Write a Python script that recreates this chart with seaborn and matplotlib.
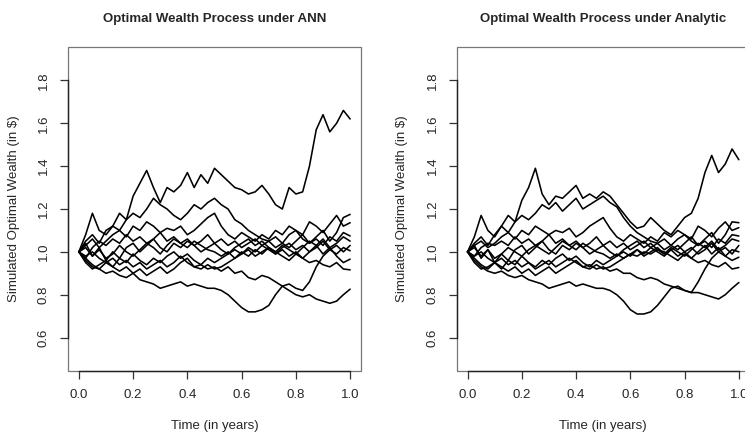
import numpy as np
import pandas as pd
import matplotlib
matplotlib.use("Agg")
import matplotlib.pyplot as plt
from matplotlib.patches import Rectangle
import seaborn as sns

# --- Data (10 simulated paths per panel) ---
time_grid = np.round(np.arange(0, 1.0001, 0.025), 3)

ann_paths = [
    [1.00, 1.05, 1.08, 1.04, 1.10, 1.12, 1.18, 1.15, 1.26, 1.32, 1.38, 1.30, 1.23, 1.30, 1.28, 1.31, 1.37, 1.30, 1.36, 1.32, 1.39,
     1.36, 1.33, 1.30, 1.29, 1.27, 1.28, 1.31, 1.27, 1.22, 1.20, 1.30, 1.27, 1.28, 1.40, 1.57, 1.64, 1.56, 1.60, 1.66, 1.62],
    [1.00, 1.08, 1.18, 1.10, 1.08, 1.12, 1.10, 1.15, 1.18, 1.16, 1.20, 1.25, 1.22, 1.20, 1.17, 1.15, 1.18, 1.22, 1.20, 1.23, 1.25,
     1.22, 1.20, 1.15, 1.13, 1.10, 1.08, 1.06, 1.05, 1.02, 1.04, 1.08, 1.10, 1.06, 1.04, 1.07, 1.10, 1.05, 1.09, 1.16, 1.175],
    [1.00, 1.03, 1.06, 1.02, 1.05, 1.08, 1.10, 1.07, 1.12, 1.10, 1.14, 1.12, 1.09, 1.11, 1.10, 1.12, 1.08, 1.10, 1.13, 1.16, 1.18,
     1.12, 1.08, 1.06, 1.09, 1.07, 1.05, 1.08, 1.06, 1.10, 1.08, 1.12, 1.10, 1.08, 1.14, 1.12, 1.09, 1.13, 1.17, 1.12, 1.136],
    [1.00, 0.97, 1.02, 1.05, 1.03, 1.06, 1.04, 1.08, 1.05, 1.07, 1.04, 1.06, 1.09, 1.05, 1.07, 1.04, 1.06, 1.03, 1.05, 1.08, 1.04,
     1.06, 1.03, 1.05, 1.02, 1.04, 1.06, 1.03, 1.05, 1.07, 1.04, 1.02, 1.05, 1.08, 1.04, 1.06, 1.03, 1.07, 1.05, 1.09, 1.074],
    [1.00, 1.04, 0.98, 1.02, 0.96, 1.00, 0.97, 1.02, 1.04, 1.00, 1.03, 1.06, 1.02, 1.00, 1.04, 1.02, 1.05, 1.03, 1.00, 1.02, 1.04,
     1.01, 0.99, 1.02, 1.04, 1.06, 1.03, 1.05, 1.02, 1.00, 1.03, 1.01, 0.99, 1.02, 1.05, 1.03, 1.06, 1.02, 1.04, 1.07, 1.05],
    [1.00, 0.95, 0.92, 0.94, 0.96, 0.93, 0.97, 0.95, 0.99, 0.96, 0.94, 0.97, 0.95, 0.98, 1.00, 0.97, 0.99, 0.96, 0.94, 0.97, 0.95,
     0.97, 0.99, 1.01, 0.99, 1.02, 1.00, 1.03, 1.01, 0.99, 1.02, 1.04, 1.01, 1.03, 1.00, 1.02, 1.05, 1.01, 1.03, 1.00, 1.03],
    [1.00, 0.96, 0.93, 0.92, 0.90, 0.91, 0.89, 0.88, 0.90, 0.87, 0.86, 0.85, 0.83, 0.84, 0.85, 0.86, 0.84, 0.85, 0.84, 0.83, 0.83,
     0.82, 0.80, 0.77, 0.74, 0.72, 0.72, 0.73, 0.75, 0.80, 0.84, 0.85, 0.83, 0.82, 0.86, 0.93, 0.98, 1.01, 0.99, 1.02, 1.005],
    [1.00, 1.02, 0.98, 1.01, 0.97, 0.99, 1.03, 1.00, 0.98, 1.01, 1.04, 1.02, 0.99, 1.03, 1.06, 1.04, 1.02, 1.05, 1.03, 1.01, 1.00,
     0.98, 1.00, 0.97, 0.99, 1.01, 0.98, 1.00, 1.02, 0.99, 1.01, 0.98, 1.00, 0.97, 1.00, 1.03, 0.99, 1.02, 0.98, 0.95, 0.966],
    [1.00, 0.97, 0.94, 0.92, 0.95, 0.93, 0.91, 0.93, 0.90, 0.92, 0.89, 0.91, 0.93, 0.90, 0.92, 0.95, 0.97, 0.93, 0.92, 0.94, 0.92,
     0.93, 0.95, 0.97, 1.00, 0.98, 1.01, 0.99, 1.02, 1.00, 0.98, 0.96, 0.99, 0.97, 0.95, 0.96, 0.94, 0.93, 0.95, 0.92, 0.916],
    [1.00, 0.98, 1.00, 0.97, 0.95, 0.97, 0.94, 0.96, 0.93, 0.95, 0.92, 0.94, 0.96, 0.93, 0.95, 0.98, 0.95, 0.93, 0.94, 0.92, 0.93,
     0.91, 0.93, 0.90, 0.91, 0.88, 0.87, 0.89, 0.88, 0.86, 0.84, 0.82, 0.80, 0.79, 0.80, 0.78, 0.77, 0.76, 0.77, 0.80, 0.826],
]

analytic_paths = [
    [1.00, 1.04, 1.07, 1.03, 1.08, 1.12, 1.17, 1.14, 1.24, 1.30, 1.39, 1.27, 1.22, 1.26, 1.25, 1.28, 1.31, 1.25, 1.27, 1.25, 1.28,
     1.26, 1.22, 1.18, 1.14, 1.11, 1.12, 1.16, 1.13, 1.10, 1.08, 1.12, 1.16, 1.18, 1.25, 1.37, 1.45, 1.37, 1.41, 1.48, 1.43],
    [1.00, 1.07, 1.17, 1.10, 1.07, 1.12, 1.09, 1.14, 1.17, 1.15, 1.18, 1.22, 1.20, 1.23, 1.19, 1.22, 1.25, 1.20, 1.22, 1.24, 1.26,
     1.23, 1.21, 1.16, 1.12, 1.09, 1.07, 1.05, 1.04, 1.01, 1.03, 1.06, 1.08, 1.05, 1.03, 1.06, 1.09, 1.04, 1.08, 1.14, 1.136],
    [1.00, 1.03, 1.05, 1.02, 1.04, 1.07, 1.09, 1.06, 1.10, 1.08, 1.12, 1.10, 1.08, 1.10, 1.09, 1.11, 1.07, 1.09, 1.12, 1.14, 1.16,
     1.11, 1.07, 1.05, 1.08, 1.06, 1.04, 1.07, 1.05, 1.09, 1.07, 1.10, 1.08, 1.06, 1.12, 1.10, 1.07, 1.11, 1.14, 1.10, 1.113],
    [1.00, 0.98, 1.02, 1.04, 1.03, 1.05, 1.03, 1.07, 1.04, 1.06, 1.03, 1.05, 1.08, 1.04, 1.06, 1.03, 1.05, 1.02, 1.04, 1.07, 1.03,
     1.05, 1.02, 1.04, 1.01, 1.03, 1.05, 1.02, 1.04, 1.06, 1.03, 1.01, 1.04, 1.07, 1.03, 1.05, 1.02, 1.06, 1.04, 1.08, 1.074],
    [1.00, 1.03, 0.97, 1.01, 0.95, 0.99, 0.96, 1.01, 1.03, 0.99, 1.02, 1.05, 1.01, 0.99, 1.03, 1.01, 1.04, 1.02, 0.99, 1.01, 1.03,
     1.00, 0.98, 1.01, 1.03, 1.05, 1.02, 1.04, 1.01, 0.99, 1.02, 1.00, 0.98, 1.01, 1.04, 1.02, 1.05, 1.01, 1.03, 1.06, 1.05],
    [1.00, 0.95, 0.92, 0.93, 0.95, 0.92, 0.96, 0.94, 0.98, 0.95, 0.93, 0.96, 0.94, 0.97, 0.99, 0.96, 0.98, 0.95, 0.93, 0.96, 0.94,
     0.96, 0.98, 1.00, 0.98, 1.01, 0.99, 1.02, 1.00, 0.98, 1.01, 1.03, 1.00, 1.02, 0.99, 1.01, 1.04, 1.00, 1.02, 0.99, 1.03],
    [1.00, 0.96, 0.93, 0.91, 0.90, 0.91, 0.89, 0.88, 0.89, 0.87, 0.86, 0.85, 0.83, 0.84, 0.85, 0.86, 0.84, 0.85, 0.84, 0.83, 0.83,
     0.82, 0.80, 0.77, 0.73, 0.71, 0.71, 0.72, 0.75, 0.79, 0.83, 0.84, 0.82, 0.81, 0.86, 0.92, 0.97, 1.00, 0.98, 1.01, 1.00],
    [1.00, 1.02, 0.98, 1.01, 0.97, 0.99, 1.02, 1.00, 0.98, 1.01, 1.03, 1.01, 0.99, 1.02, 1.05, 1.03, 1.01, 1.04, 1.02, 1.00, 0.99,
     0.97, 0.99, 0.97, 0.99, 1.01, 0.98, 1.00, 1.02, 0.99, 1.01, 0.98, 1.00, 0.97, 1.00, 1.03, 0.99, 1.02, 0.98, 0.96, 0.975],
    [1.00, 0.97, 0.94, 0.92, 0.95, 0.93, 0.91, 0.93, 0.90, 0.92, 0.89, 0.91, 0.93, 0.90, 0.92, 0.94, 0.96, 0.93, 0.92, 0.94, 0.92,
     0.93, 0.95, 0.97, 0.99, 0.98, 1.00, 0.99, 1.01, 1.00, 0.98, 0.96, 0.99, 0.97, 0.95, 0.96, 0.94, 0.93, 0.95, 0.92, 0.927],
    [1.00, 0.98, 1.00, 0.97, 0.95, 0.97, 0.94, 0.96, 0.93, 0.95, 0.92, 0.94, 0.96, 0.93, 0.95, 0.97, 0.95, 0.93, 0.94, 0.92, 0.93,
     0.91, 0.92, 0.90, 0.90, 0.88, 0.87, 0.88, 0.87, 0.85, 0.84, 0.83, 0.82, 0.81, 0.81, 0.80, 0.79, 0.78, 0.80, 0.83, 0.857],
]

panel_titles = ["Optimal Wealth Process under ANN", "Optimal Wealth Process under Analytic"]
x_ticks = [0.0, 0.2, 0.4, 0.6, 0.8, 1.0]
y_ticks = [0.6, 0.8, 1.0, 1.2, 1.4, 1.6, 1.8]


def to_long(paths):
    rows = []
    for i, p in enumerate(paths):
        for t, w in zip(time_grid, p):
            rows.append({"path": i, "time": t, "wealth": w})
    return pd.DataFrame(rows)


sns.set_style("white")
plt.rcParams["font.family"] = ["Liberation Sans", "DejaVu Sans"]
FS = 9.5

fig = plt.figure(figsize=(7.45, 4.34), dpi=100)
# right panel runs past the figure edge, as in the reference crop
ax_l = fig.add_axes([68 / 745, 63 / 434, 293 / 745, 324 / 434])
ax_r = fig.add_axes([456.7 / 745, 63 / 434, 293 / 745, 324 / 434])

for ax, paths, title in zip([ax_l, ax_r], [ann_paths, analytic_paths], panel_titles):
    df = to_long(paths)
    sns.lineplot(data=df, x="time", y="wealth", units="path", estimator=None,
                 color="black", lw=1.15, ax=ax, legend=False)
    ax.set_xlim(-0.04, 1.04)
    ax.set_ylim(0.444, 1.956)
    ax.set_xticks(x_ticks)
    ax.set_yticks(y_ticks)
    ax.set_xticklabels([f"{v:.1f}" for v in x_ticks], fontsize=FS)
    ax.set_yticklabels([f"{v:.1f}" for v in y_ticks], fontsize=FS,
                       rotation=90, va="center")
    ax.tick_params(axis="both", direction="out", length=6, width=0.9,
                   color="#333333", pad=7, left=True, bottom=True)
    # R style: light box plus axis lines between first and last tick
    for side in ["top", "right", "left", "bottom"]:
        ax.spines[side].set_visible(False)
    ax.add_patch(Rectangle((0, 0), 1, 1, transform=ax.transAxes, fill=False,
                           edgecolor="#777777", lw=0.9, clip_on=False))
    ax.spines["left"].set_visible(True)
    ax.spines["bottom"].set_visible(True)
    ax.spines["left"].set_bounds(0.6, 1.8)
    ax.spines["bottom"].set_bounds(0.0, 1.0)
    for side in ["left", "bottom"]:
        ax.spines[side].set_color("#222222")
        ax.spines[side].set_linewidth(1.0)
    ax.set_xlabel("Time (in years)", fontsize=FS)
    ax.set_ylabel("Simulated Optimal Wealth (in $)", fontsize=FS)
    ax.xaxis.set_label_coords(0.5, -0.15)
    ax.yaxis.set_label_coords(-0.165, 0.5)
    ax.set_title(title, fontsize=FS, fontweight="bold", pad=18)

fig.savefig("out.png", dpi=100)
